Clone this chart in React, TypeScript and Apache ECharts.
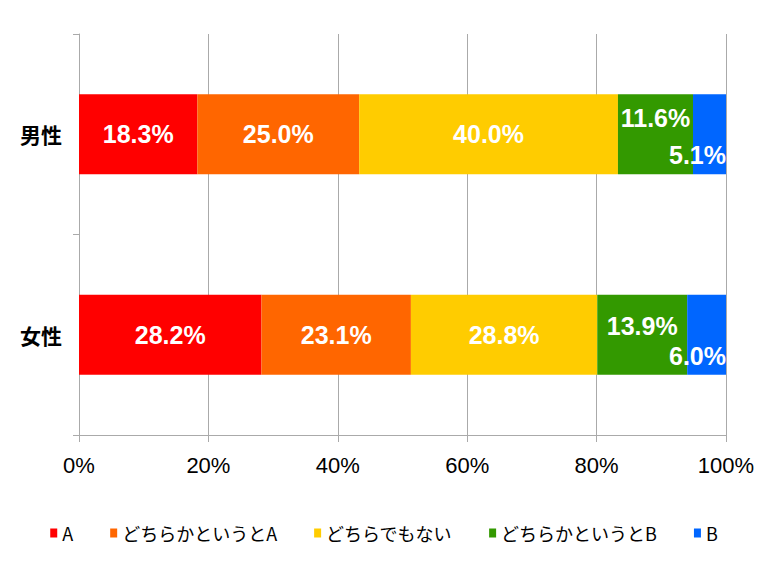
import React, { useEffect, useRef } from "react";
import * as echarts from "echarts";

const categories = ["男性", "女性"];
const seriesNames = ["A", "どちらかというとA", "どちらでもない", "どちらかというとB", "B"];
const colors = ["#ff0000", "#ff6600", "#ffcc00", "#339900", "#0066ff"];
const valuesA = [18.3, 28.2];
const valuesLeanA = [25.0, 23.1];
const valuesNeutral = [40.0, 28.8];
const valuesLeanB = [11.6, 13.9];
const valuesB = [5.1, 6.0];
const xTicks = [0, 20, 40, 60, 80, 100];

const allValues = [valuesA, valuesLeanA, valuesNeutral, valuesLeanB, valuesB];

const labelFont = "'Liberation Sans', Arial, sans-serif";

export default function App() {
  const ref = useRef<HTMLDivElement>(null);
  useEffect(() => {
    document.body.style.margin = "0";
    const chart = echarts.init(ref.current!, null, { renderer: "svg" });
    const baseLabel = {
      show: true,
      color: "#ffffff",
      fontSize: 25,
      fontWeight: "bold",
      fontFamily: labelFont,
      formatter: (p: any) => p.value.toFixed(1) + "%",
    };
    const greenOffsets = [[0, -16], [0, -9]];
    const series = seriesNames.map((name, si) => {
      const vals = allValues[si];
      let data: any[] = vals.map((v) => v);
      let label: any = { ...baseLabel, position: "inside" };
      if (si === 3) {
        data = vals.map((v, i) => ({ value: v, label: { offset: greenOffsets[i] } }));
      }
      if (si === 4) {
        label = { ...baseLabel, position: "insideRight", distance: 0, offset: [0, 21] };
      }
      return {
        name,
        type: "bar",
        stack: "total",
        barWidth: 80,
        itemStyle: { color: colors[si] },
        label,
        data,
      };
    });
    chart.setOption({
      animation: false,
      grid: { left: 79, right: 42, top: 34, bottom: 134, containLabel: false },
      legend: {
        data: seriesNames,
        left: "center",
        top: 519,
        icon: "rect",
        itemWidth: 7,
        itemHeight: 9,
        itemGap: 37,
        textStyle: { fontSize: 18, color: "#000", fontFamily: "'Noto Sans CJK JP', sans-serif" },
      },
      xAxis: {
        type: "value",
        min: 0,
        max: 100,
        interval: 20,
        axisLine: { show: true, lineStyle: { color: "#aaaaaa" } },
        axisTick: { show: true, length: 7, lineStyle: { color: "#aaaaaa" } },
        splitLine: { show: true, lineStyle: { color: "#aaaaaa" } },
        axisLabel: {
          formatter: (v: number) => (xTicks.includes(v) ? v + "%" : ""),
          fontSize: 22,
          color: "#000",
          margin: 19,
          fontFamily: "'Liberation Sans', sans-serif",
        },
      },
      yAxis: {
        type: "category",
        data: categories,
        inverse: true,
        axisLine: { show: true, lineStyle: { color: "#aaaaaa" } },
        axisTick: { show: true, length: 6, lineStyle: { color: "#aaaaaa" } },
        axisLabel: {
          fontSize: 21,
          fontWeight: "bold",
          color: "#000",
          margin: 17,
          fontFamily: "'Noto Sans CJK JP', sans-serif",
        },
      },
      series,
    });
    return () => chart.dispose();
  }, []);
  return <div ref={ref} style={{ width: 768, height: 569 }} />;
}
